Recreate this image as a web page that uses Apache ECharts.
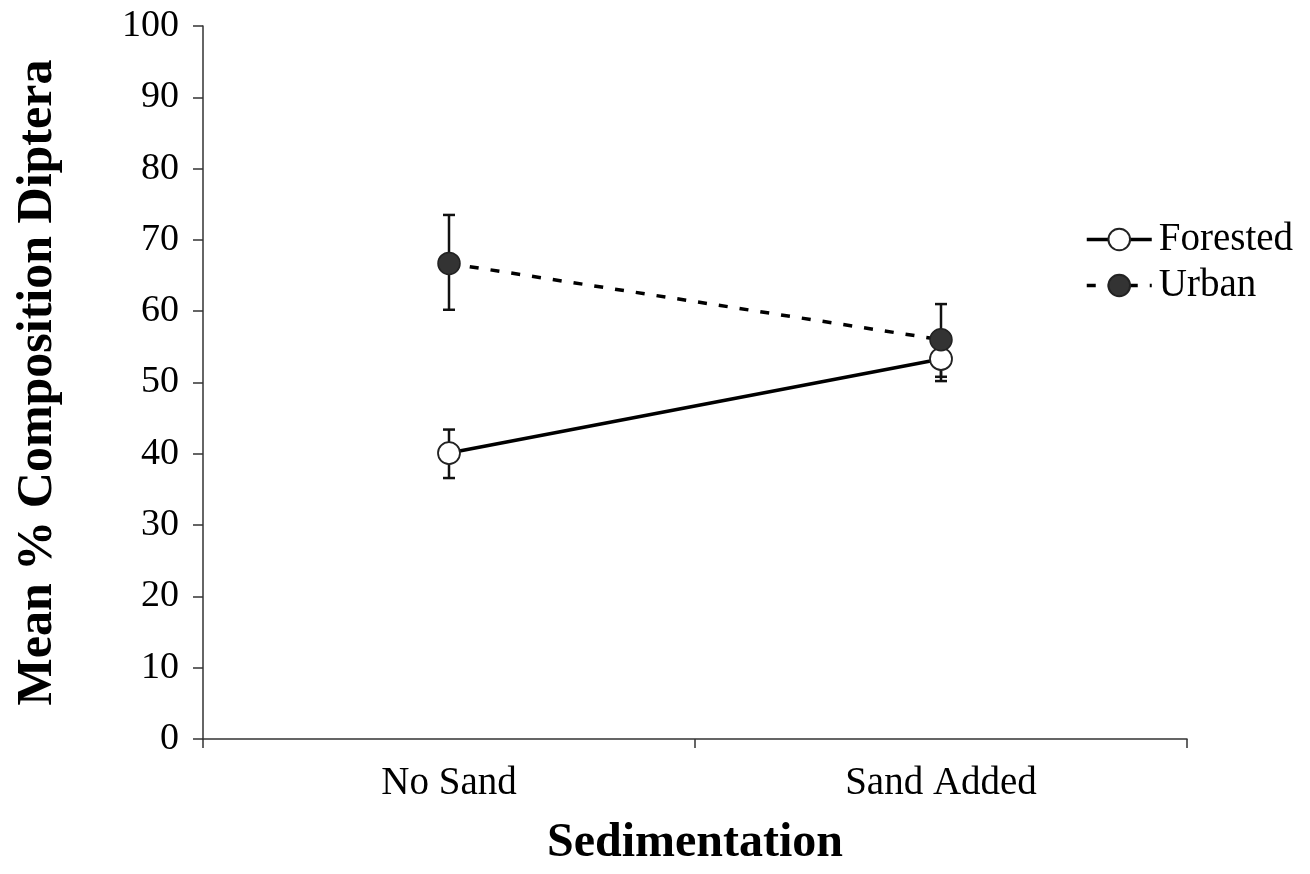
<!DOCTYPE html>
<html>
<head>
<meta charset="utf-8">
<script src="https://cdn.jsdelivr.net/npm/echarts@6/dist/echarts.min.js"></script>
<style>
  html, body { margin: 0; padding: 0; background: #fff; }
  #chart { width: 1310px; height: 874px; }
</style>
</head>
<body>
<div id="chart"></div>
<script>
const categories = ['No Sand', 'Sand Added'];
const forestedMean = [40.1, 53.3];
const forestedLow = [36.6, 50.2];
const forestedHigh = [43.4, 56.4];
const urbanMean = [66.7, 56.0];
const urbanLow = [60.2, 50.8];
const urbanHigh = [73.5, 61.0];
const yTicks = [0, 10, 20, 30, 40, 50, 60, 70, 80, 90, 100];

const FONT = '"Liberation Serif", "Times New Roman", Times, serif';

function errData(low, high) {
  return categories.map((c, i) => [i, low[i], high[i]]);
}

function renderErr(params, api) {
  const x = api.value(0);
  const lo = api.coord([x, api.value(1)]);
  const hi = api.coord([x, api.value(2)]);
  const hw = 6;
  const style = { stroke: '#111', lineWidth: 2.5 };
  return {
    type: 'group',
    children: [
      { type: 'line', shape: { x1: lo[0], y1: lo[1], x2: hi[0], y2: hi[1] }, style: style },
      { type: 'line', shape: { x1: lo[0] - hw, y1: lo[1], x2: lo[0] + hw, y2: lo[1] }, style: style },
      { type: 'line', shape: { x1: hi[0] - hw, y1: hi[1], x2: hi[0] + hw, y2: hi[1] }, style: style }
    ]
  };
}

const chart = echarts.init(document.getElementById('chart'), null, { renderer: 'canvas' });
chart.setOption({
  animation: false,
  backgroundColor: '#fff',
  grid: { left: 203, right: 123, top: 26, bottom: 135, containLabel: false },
  legend: {
    orient: 'vertical',
    left: 1085,
    top: 220,
    padding: 0,
    itemWidth: 65,
    itemHeight: 27,
    itemGap: 7,
    textStyle: { fontFamily: FONT, fontSize: 39, color: '#000', padding: [0, 0, 0, 2] },
    data: [
      { name: 'Forested', lineStyle: { width: 3.5 } },
      { name: 'Urban', lineStyle: { width: 3.5 } }
    ]
  },
  xAxis: {
    type: 'category',
    data: categories,
    boundaryGap: true,
    name: 'Sedimentation',
    nameLocation: 'middle',
    nameGap: 81,
    nameTextStyle: { fontFamily: FONT, fontSize: 48, fontWeight: 'bold', color: '#000' },
    axisLine: { lineStyle: { color: '#333', width: 1.5 } },
    axisTick: { show: true, length: 9, alignWithLabel: false, lineStyle: { color: '#333', width: 1.5 } },
    axisLabel: { fontFamily: FONT, fontSize: 39, color: '#000', margin: 25 },
    splitLine: { show: false }
  },
  yAxis: {
    type: 'value',
    min: 0,
    max: 100,
    interval: 10,
    name: 'Mean % Composition Diptera',
    nameLocation: 'middle',
    nameGap: 140,
    nameTextStyle: { fontFamily: FONT, fontSize: 50, fontWeight: 'bold', color: '#000' },
    axisLine: { show: true, lineStyle: { color: '#333', width: 1.5 } },
    axisTick: { show: true, length: 10, lineStyle: { color: '#333', width: 1.5 } },
    axisLabel: {
      fontFamily: FONT, fontSize: 38, color: '#000', margin: 24,
      formatter: v => (yTicks.indexOf(v) >= 0 ? String(v) : '')
    },
    splitLine: { show: false }
  },
  series: [
    {
      type: 'custom',
      name: 'Forested err',
      renderItem: renderErr,
      data: errData(forestedLow, forestedHigh),
      encode: { x: 0, y: [1, 2] },
      z: 1,
      silent: true
    },
    {
      type: 'custom',
      name: 'Urban err',
      renderItem: renderErr,
      data: errData(urbanLow, urbanHigh),
      encode: { x: 0, y: [1, 2] },
      z: 1,
      silent: true
    },
    {
      type: 'line',
      name: 'Forested',
      data: forestedMean,
      symbol: 'circle',
      symbolSize: 22,
      z: 3,
      lineStyle: { color: '#000', width: 3.5, type: 'solid' },
      itemStyle: { color: '#fff', borderColor: '#222', borderWidth: 1.8 }
    },
    {
      type: 'line',
      name: 'Urban',
      data: urbanMean,
      symbol: 'circle',
      symbolSize: 22,
      z: 4,
      lineStyle: { color: '#000', width: 3.5, type: [9, 12] },
      itemStyle: { color: '#333', borderColor: '#222', borderWidth: 1.5 }
    }
  ]
});
</script>
</body>
</html>
